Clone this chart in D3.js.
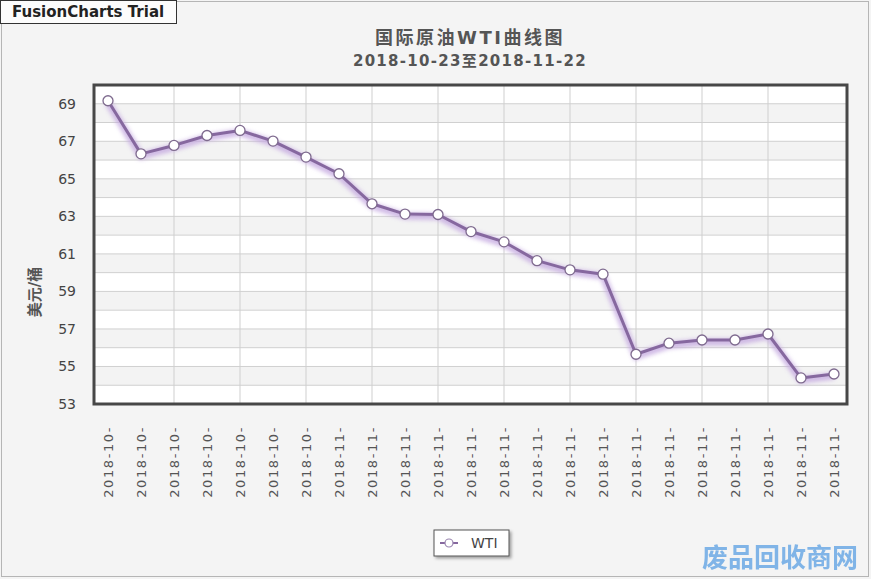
<!DOCTYPE html>
<html>
<head>
<meta charset="utf-8">
<script src="https://cdn.jsdelivr.net/npm/d3@7/dist/d3.min.js"></script>
<style>
  body { margin: 0; background: #f4f4f4; }
  svg { display: block; font-family: "DejaVu Sans", "Noto Sans CJK SC", sans-serif; }
</style>
</head>
<body>
<svg width="871" height="579"></svg>
<script>
// trading days shown on the x axis
var dates = ['2018-10-23', '2018-10-24', '2018-10-25', '2018-10-26', '2018-10-29', '2018-10-30', '2018-10-31',
    '2018-11-01', '2018-11-02', '2018-11-05', '2018-11-06', '2018-11-07', '2018-11-08', '2018-11-09',
    '2018-11-12', '2018-11-13', '2018-11-14', '2018-11-15', '2018-11-16', '2018-11-19', '2018-11-20',
    '2018-11-21', '2018-11-22'];

// WTI price, USD per barrel
var wti = [69.16, 66.33, 66.78, 67.31, 67.58, 67.01, 66.16, 65.27, 63.67, 63.12, 63.10, 62.19, 61.64,
    60.64, 60.15, 59.92, 55.65, 56.24, 56.41, 56.41, 56.73, 54.39, 54.60];

var yTicks = [53, 55, 57, 59, 61, 63, 65, 67, 69];

var svg = d3.select('svg');

var plot = { l: 94, t: 85, r: 847, b: 404 };

var xScale = d3.scalePoint().domain(dates).range([108, 834]);
var yScale = d3.scaleLinear().domain([53, 70]).range([plot.b, plot.t]);

// outer chart border
svg.append('rect')
    .attr('x', 1.5).attr('y', 1.5)
    .attr('width', 867).attr('height', 575)
    .attr('fill', '#f4f4f4')
    .attr('stroke', '#b5b5b5');

// filters
var defs = svg.append('defs');
var glow = defs.append('filter').attr('id', 'glow')
    .attr('x', '-10%').attr('y', '-10%').attr('width', '120%').attr('height', '130%');
glow.append('feGaussianBlur').attr('stdDeviation', 2);

var shadow = defs.append('filter').attr('id', 'shadow')
    .attr('x', '-20%').attr('y', '-30%').attr('width', '150%').attr('height', '180%');
shadow.append('feDropShadow').attr('dx', 2).attr('dy', 2).attr('stdDeviation', 1.5)
    .attr('flood-color', '#000').attr('flood-opacity', 0.35);

// titles
svg.append('text')
    .attr('x', 470).attr('y', 44)
    .attr('text-anchor', 'middle')
    .attr('font-size', 18).attr('font-weight', 'bold')
    .attr('letter-spacing', 2.5)
    .attr('fill', '#555')
    .text('国际原油WTI曲线图');

svg.append('text')
    .attr('x', 470).attr('y', 66)
    .attr('text-anchor', 'middle')
    .attr('font-size', 15).attr('font-weight', 'bold')
    .attr('letter-spacing', 1.3)
    .attr('fill', '#555')
    .text('2018-10-23至2018-11-22');

// plot background with alternate bands
svg.append('rect')
    .attr('x', plot.l).attr('y', plot.t)
    .attr('width', plot.r - plot.l).attr('height', plot.b - plot.t)
    .attr('fill', '#fff');

var bandG = svg.append('g');
bandG.selectAll('rect')
    .data(yTicks.slice(1))
    .enter().append('rect')
    .attr('x', plot.l)
    .attr('y', d => yScale(d))
    .attr('width', plot.r - plot.l)
    .attr('height', d => yScale(d - 1) - yScale(d))
    .attr('fill', '#f3f3f3');

// horizontal grid every unit
var hLines = d3.range(54, 70);
svg.append('g').selectAll('line')
    .data(hLines)
    .enter().append('line')
    .attr('x1', plot.l).attr('x2', plot.r)
    .attr('y1', d => yScale(d)).attr('y2', d => yScale(d))
    .attr('stroke', '#d0d0d0').attr('stroke-width', 1);

// vertical grid on every second category
svg.append('g').selectAll('line')
    .data(dates.filter((d, i) => i > 0 && i < dates.length - 1 && i % 2 === 0))
    .enter().append('line')
    .attr('x1', d => xScale(d)).attr('x2', d => xScale(d))
    .attr('y1', plot.t).attr('y2', plot.b)
    .attr('stroke', '#cfcfcf').attr('stroke-width', 1);

// plot border
svg.append('rect')
    .attr('x', plot.l).attr('y', plot.t)
    .attr('width', plot.r - plot.l).attr('height', plot.b - plot.t)
    .attr('fill', 'none')
    .attr('stroke', '#474747').attr('stroke-width', 3);

// y axis labels
var yAxis = d3.axisLeft(yScale).tickValues(yTicks).tickSize(0).tickPadding(0);
var yAxisG = svg.append('g')
    .attr('transform', 'translate(76,0)')
    .call(yAxis);
yAxisG.select('.domain').remove();
yAxisG.selectAll('text')
    .attr('font-family', '"DejaVu Sans", sans-serif')
    .attr('font-size', 14)
    .attr('fill', '#444');

svg.append('text')
    .attr('transform', 'translate(40, 292) rotate(-90)')
    .attr('text-anchor', 'middle')
    .attr('font-size', 15).attr('font-weight', 'bold')
    .attr('fill', '#555')
    .text('美元/桶');

// x axis labels, rotated
var xAxis = d3.axisBottom(xScale).tickSize(0).tickFormat(d => d.slice(0, 8));
var xAxisG = svg.append('g')
    .attr('transform', 'translate(0,' + plot.b + ')')
    .call(xAxis);
xAxisG.select('.domain').remove();
xAxisG.selectAll('text')
    .attr('font-family', '"DejaVu Sans", sans-serif')
    .attr('font-size', 13)
    .attr('letter-spacing', 1.6)
    .attr('fill', '#555')
    .attr('text-anchor', 'end')
    .attr('dy', '0.35em')
    .attr('y', 0)
    .attr('transform', 'translate(0,22) rotate(-90)');

// line
var line = d3.line()
    .x((d, i) => xScale(dates[i]))
    .y(d => yScale(d));

svg.append('path')
    .datum(wti)
    .attr('d', line)
    .attr('fill', 'none')
    .attr('stroke', '#c4a8e0')
    .attr('stroke-width', 7)
    .attr('opacity', 0.8)
    .attr('transform', 'translate(0,2)')
    .attr('filter', 'url(#glow)');

svg.append('path')
    .datum(wti)
    .attr('d', line)
    .attr('fill', 'none')
    .attr('stroke', '#86689f')
    .attr('stroke-width', 3)
    .attr('stroke-linejoin', 'round');

svg.append('g').selectAll('circle')
    .data(wti)
    .enter().append('circle')
    .attr('cx', (d, i) => xScale(dates[i]))
    .attr('cy', d => yScale(d))
    .attr('r', 5)
    .attr('fill', '#fff')
    .attr('stroke', '#7e6a8e')
    .attr('stroke-width', 1.3);

// legend
var legend = svg.append('g').attr('transform', 'translate(434,530)');
legend.append('rect')
    .attr('width', 75).attr('height', 26)
    .attr('fill', '#fff')
    .attr('stroke', '#555').attr('stroke-width', 1)
    .attr('filter', 'url(#shadow)');
legend.append('line')
    .attr('x1', 6).attr('x2', 24).attr('y1', 13).attr('y2', 13)
    .attr('stroke', '#86689f').attr('stroke-width', 2);
legend.append('circle')
    .attr('cx', 15).attr('cy', 13).attr('r', 4)
    .attr('fill', '#fff').attr('stroke', '#9a86b0').attr('stroke-width', 1.2);
legend.append('text')
    .attr('x', 37).attr('y', 18)
    .attr('font-size', 14)
    .attr('fill', '#444')
    .text('WTI');

// trial badge
svg.append('rect')
    .attr('x', 0.5).attr('y', 0.5)
    .attr('width', 176).attr('height', 23)
    .attr('fill', '#fcfcfc')
    .attr('stroke', '#333');
svg.append('text')
    .attr('x', 12).attr('y', 17)
    .attr('font-size', 15).attr('font-weight', 'bold')
    .attr('fill', '#222')
    .text('FusionCharts Trial');

// watermark
svg.append('text')
    .attr('x', 858).attr('y', 567)
    .attr('text-anchor', 'end')
    .attr('font-family', '"Noto Sans CJK SC", sans-serif')
    .attr('font-size', 26).attr('font-weight', 'bold')
    .attr('fill', '#74aee6')
    .attr('opacity', 0.9)
    .text('废品回收商网');
</script>
</body>
</html>
